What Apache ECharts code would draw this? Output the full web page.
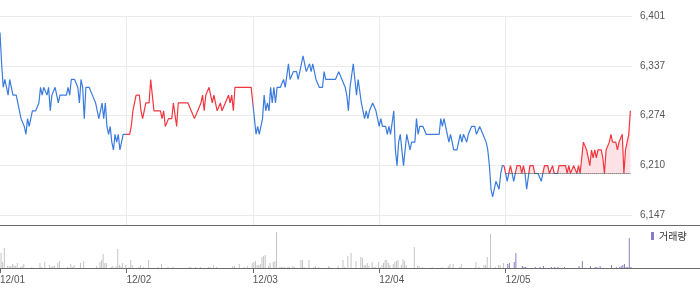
<!DOCTYPE html>
<html><head><meta charset="utf-8">
<script src="https://cdn.jsdelivr.net/npm/echarts@6/dist/echarts.min.js"></script>
<style>html,body{margin:0;padding:0;background:#fff}#c{width:700px;height:289px}</style>
</head><body><div id="c"></div>
<script>
// ---------- data ----------
const dates = ['12/01', '12/02', '12/03', '12/04', '12/05'];
const pointsPerDay = 78;            // 5-minute points per session
const prevClose = 6200;             // base line of the last session
const yMin = 6147, yMax = 6401, yStep = 63.5;
const volumeName = '거래량';

const price1 = [6380,6340,6310,6320,6320,6300,6320,6310,6300,6300,
  6300,6290,6280,6270,6270,6260,6250,6270,6260,6270,
  6280,6280,6280,6280,6290,6310,6300,6310,6310,6300,
  6310,6280,6300,6300,6310,6310,6290,6300,6300,6300,
  6300,6300,6310,6300,6320,6320,6320,6320,6310,6290,
  6320,6310,6270,6310,6310,6310,6310,6300,6300,6290,
  6280,6270,6270,6290,6270,6290,6260,6250,6260,6240,
  6230,6250,6240,6250,6230,6240,6250,6250];
const price2 = [6250,6250,6250,6260,6280,6280,6300,6300,6300,6280,
  6270,6280,6290,6290,6290,6320,6300,6280,6280,6280,
  6280,6280,6270,6280,6260,6260,6270,6270,6270,6290,
  6290,6260,6290,6290,6290,6290,6290,6290,6290,6290,
  6280,6280,6270,6270,6280,6280,6290,6300,6280,6300,
  6300,6310,6300,6290,6300,6300,6280,6280,6290,6280,
  6280,6290,6290,6300,6290,6300,6280,6310,6310,6310,
  6310,6310,6310,6310,6310,6310,6310,6310];
const price3 = [6310,6270,6250,6260,6250,6250,6270,6300,6280,6290,
  6280,6310,6290,6310,6290,6310,6310,6310,6310,6320,
  6310,6310,6340,6320,6320,6330,6330,6330,6320,6320,
  6340,6350,6340,6330,6330,6340,6330,6340,6330,6320,
  6320,6310,6310,6310,6330,6320,6320,6320,6320,6320,
  6320,6320,6320,6330,6330,6320,6320,6310,6300,6280,
  6310,6310,6340,6320,6300,6320,6320,6290,6280,6270,
  6280,6270,6280,6280,6290,6290,6280,6270];
const price4 = [6260,6270,6260,6260,6260,6250,6260,6250,6250,6280,
  6230,6210,6240,6250,6250,6210,6210,6250,6240,6230,
  6240,6240,6240,6270,6250,6260,6260,6260,6260,6250,
  6250,6250,6250,6250,6250,6250,6250,6250,6270,6260,
  6270,6260,6250,6240,6250,6240,6230,6230,6230,6240,
  6250,6240,6250,6250,6240,6250,6250,6260,6260,6260,
  6250,6250,6260,6260,6250,6250,6240,6230,6210,6180,
  6170,6170,6190,6190,6180,6200,6210,6210];
const price5 = [6200,6190,6200,6210,6200,6190,6200,6210,6210,6210,
  6200,6210,6200,6180,6180,6210,6210,6210,6200,6200,
  6200,6200,6190,6200,6210,6210,6210,6200,6200,6210,
  6200,6200,6200,6210,6210,6210,6210,6210,6200,6210,
  6200,6200,6210,6210,6200,6210,6200,6220,6240,6240,
  6230,6220,6210,6230,6220,6230,6220,6230,6230,6230,
  6220,6200,6230,6230,6240,6250,6240,6240,6240,6230,
  6240,6240,6250,6200,6230,6230,6250,6280];

const vol1 = [0,15,6,20,0,2,2,2,4,3, 2,5,0,1,2,4,0,0,0,0, 1,0,0,0,0,5,1,0,6,0,
  0,3,1,2,2,0,5,7,0,0, 0,0,1,0,4,1,3,0,0,0, 5,0,7,0,0,0,0,0,0,0,
  2,0,6,8,14,5,5,0,0,1, 2,0,2,19,3,2,5,0];
const vol2 = [3,0,1,8,3,0,0,0,1,3, 0,1,0,0,8,0,0,0,0,0, 1,0,4,0,0,0,1,0,0,1,
  0,0,0,0,0,0,0,0,0,1, 1,0,0,1,0,0,1,0,0,0, 0,1,1,0,3,0,1,0,0,0,
  0,0,0,0,0,0,2,2,0,0, 4,0,0,1,0,2,0,0];
const vol3 = [5,6,7,3,3,4,11,12,13,0, 2,5,0,6,7,36,0,1,1,1, 1,0,1,1,0,2,1,0,0,0,
  8,8,1,0,0,8,0,0,1,2, 0,1,0,0,0,0,0,2,1,0, 0,0,0,2,0,0,8,1,0,12,
  0,15,0,0,7,0,0,11,10,3, 3,5,2,0,6,1,1,0];
const vol4 = [6,1,3,5,8,8,5,3,0,4, 6,7,8,0,3,9,7,3,0,0, 0,0,21,0,2,2,0,1,0,0,
  0,0,0,1,0,0,0,0,0,1, 0,0,0,2,4,0,4,0,0,0, 1,4,0,0,0,0,0,0,0,0,
  6,0,1,0,0,3,3,11,0,34, 0,0,1,0,3,3,0,5];
const vol5 = [0,4,5,0,0,6,15,0,0,0, 2,1,1,0,0,0,0,0,1,0, 0,1,0,2,0,0,0,0,1,0,
  1,0,1,0,0,0,1,0,0,0, 0,0,0,0,0,2,0,7,0,0, 0,0,2,0,0,1,1,0,2,0,
  0,0,0,0,0,3,0,0,1,0, 1,2,3,4,1,1,30,1];

// ---------- build ----------
const BLUE = '#3b7bdc', RED = '#f2363f', GRID = '#ebebeb', AXIS = '#6b6b6b';
const P = pointsPerDay;
const nDays = dates.length;
const priceDays = [price1, price2, price3, price4];
const volDays = [vol1, vol2, vol3, vol4];
const pastPrice = [], pastVol = [];
priceDays.forEach((arr, d) => arr.forEach((v, i) => pastPrice.push([d * P + i, v])));
volDays.forEach((arr, d) => arr.forEach((v, i) => pastVol.push([d * P + i, v])));
const lastIdx = 4 * P;
const todayPrice = [pastPrice[pastPrice.length - 1]].concat(price5.map((v, i) => [lastIdx + i, v]));
const todayAreaTop = price5.map((v, i) => [lastIdx + i, Math.max(v, prevClose)]);
const todayVol = vol5.map((v, i) => [lastIdx + i, v]);
const xMax = nDays * P;
const plotRight = 68;
const W = 700;
const volXMax = xMax * W / (W - plotRight);
const dayStarts = dates.map((d, i) => i * P);

const chart = echarts.init(document.getElementById('c'), null, {renderer: 'canvas'});
chart.setOption({
  animation: false,
  backgroundColor: '#fff',
  textStyle: {fontFamily: 'Liberation Sans, Arial, sans-serif'},
  grid: [
    {left: 0, right: plotRight, top: 16, height: 199, containLabel: false, outerBoundsMode: 'none'},
    {left: 0, right: plotRight, top: 215, height: 10, containLabel: false, outerBoundsMode: 'none'},
    {left: 0, right: 0, top: 225, height: 43, containLabel: false, outerBoundsMode: 'none'}
  ],
  legend: {
    data: [volumeName], left: 651, top: 231, icon: 'rect', itemWidth: 3, itemHeight: 8,
    textStyle: {fontSize: 10, color: '#333', fontFamily: 'Noto Sans CJK KR, sans-serif'},
    selectedMode: false, padding: 0
  },
  xAxis: [
    {type: 'value', gridIndex: 0, min: 0, max: xMax, interval: P,
      axisLine: {show: false}, axisTick: {show: false}, axisLabel: {show: false},
      splitLine: {show: true, showMinLine: false, showMaxLine: false, lineStyle: {color: GRID, width: 1}}},
    {type: 'value', gridIndex: 1, min: 0, max: xMax, interval: P,
      axisLine: {show: false}, axisTick: {show: false}, axisLabel: {show: false},
      splitLine: {show: true, showMinLine: false, showMaxLine: false, lineStyle: {color: GRID, width: 1}}},
    {type: 'value', gridIndex: 2, min: 0, max: volXMax, position: 'bottom',
      axisLine: {show: true, onZero: false, lineStyle: {color: AXIS, width: 1}},
      axisTick: {show: true, length: 5, customValues: dayStarts, lineStyle: {color: AXIS}},
      axisLabel: {show: true, customValues: dayStarts, align: 'left', margin: 7, fontSize: 10, color: '#555',
        formatter: v => dates[Math.round(v / P)] || ''},
      splitLine: {show: false}},
    {type: 'value', gridIndex: 2, min: 0, max: volXMax, position: 'top',
      axisLine: {show: true, onZero: false, lineStyle: {color: AXIS, width: 1}},
      axisTick: {show: false}, axisLabel: {show: false}, splitLine: {show: false}}
  ],
  yAxis: [
    {type: 'value', gridIndex: 0, min: yMin, max: yMax, interval: yStep, position: 'right',
      axisLine: {show: false}, axisTick: {show: false},
      axisLabel: {margin: 8, fontSize: 10, color: '#555',
        formatter: v => Math.floor(v).toLocaleString('en-US')},
      splitLine: {show: true, lineStyle: {color: GRID, width: 1}}},
    {type: 'value', gridIndex: 1, min: 0, max: 1, show: false},
    {type: 'value', gridIndex: 2, min: 0, max: 43, show: false}
  ],
  visualMap: [
    {type: 'piecewise', show: false, seriesIndex: 0, dimension: 0,
      pieces: [{gte: 0, lt: P, color: BLUE}, {gte: P, lt: 2 * P, color: RED}, {gte: 2 * P, lte: xMax, color: BLUE}]},
    {type: 'piecewise', show: false, seriesIndex: 1, dimension: 1,
      pieces: [{gte: yMin - 100, lt: prevClose, color: BLUE}, {gte: prevClose, lte: yMax + 100, color: RED}]}
  ],
  series: [
    {type: 'line', xAxisIndex: 0, yAxisIndex: 0, data: pastPrice, showSymbol: false, symbol: 'none',
      lineStyle: {width: 1.2}, silent: true, z: 3},
    {type: 'line', xAxisIndex: 0, yAxisIndex: 0, data: todayPrice, showSymbol: false, symbol: 'none',
      lineStyle: {width: 1.2}, silent: true, z: 3},
    {type: 'line', xAxisIndex: 0, yAxisIndex: 0, data: todayAreaTop, showSymbol: false,
      symbol: 'none', silent: true, z: 1, itemStyle: {color: '#fce2e4'},
      lineStyle: {width: 0, opacity: 0},
      areaStyle: {origin: prevClose, color: '#fce2e4', opacity: 1},
      markLine: {silent: true, symbol: ['none', 'none'], label: {show: false},
        lineStyle: {type: 'dotted', color: '#444', width: 1},
        data: [[{coord: [lastIdx, prevClose]}, {coord: [lastIdx + P - 1, prevClose]}]]}},
    {type: 'bar', xAxisIndex: 2, yAxisIndex: 2, data: pastVol, barWidth: 1,
      itemStyle: {color: '#c4c4c6'}, silent: true},
    {type: 'bar', name: volumeName, xAxisIndex: 2, yAxisIndex: 2, data: todayVol, barWidth: 1,
      itemStyle: {color: '#8c7bc4'}, silent: true}
  ]
});
</script>
</body></html>
